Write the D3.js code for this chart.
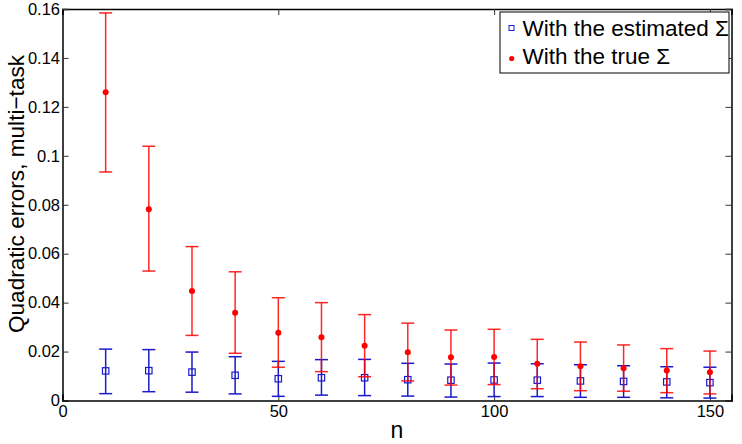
<!DOCTYPE html>
<html>
<head>
<meta charset="utf-8">
<script src="https://cdn.jsdelivr.net/npm/d3@7"></script>
<style>
  body { margin: 0; background: #fff; }
  svg { font-family: "Liberation Sans", Arial, sans-serif; }
</style>
</head>
<body>
<script>
    // sample sizes
    var nValues = [10, 20, 30, 40, 50, 60, 70, 80, 90, 100, 110, 120, 130, 140, 150];

    // with the true sigma (red)
    var trueMean = [0.126, 0.0782, 0.0448, 0.0359, 0.0277, 0.0258, 0.0224, 0.0197, 0.0177, 0.0178, 0.0150, 0.0140, 0.0132, 0.0123, 0.0115];
    var trueUpper = [0.1584, 0.1039, 0.0629, 0.0526, 0.0420, 0.0400, 0.0351, 0.0316, 0.0288, 0.0291, 0.0250, 0.0239, 0.0227, 0.0212, 0.0202];
    var trueLower = [0.0934, 0.0529, 0.0266, 0.0193, 0.0136, 0.0118, 0.0097, 0.0080, 0.0063, 0.0065, 0.0048, 0.0040, 0.0038, 0.0032, 0.0027];

    // with the estimated sigma (blue)
    var estMean = [0.0121, 0.0122, 0.0116, 0.0103, 0.0089, 0.0093, 0.0093, 0.0085, 0.0083, 0.0084, 0.0083, 0.0080, 0.0078, 0.0076, 0.0073];
    var estUpper = [0.0210, 0.0208, 0.0198, 0.0179, 0.0160, 0.0167, 0.0168, 0.0152, 0.0149, 0.0153, 0.0150, 0.0146, 0.0142, 0.0138, 0.0136];
    var estLower = [0.0028, 0.0036, 0.0034, 0.0027, 0.0017, 0.0022, 0.0020, 0.0018, 0.0014, 0.0016, 0.0016, 0.0013, 0.0013, 0.0011, 0.0010];

    var xTicks = [0, 50, 100, 150];
    var yTicks = [0, 0.02, 0.04, 0.06, 0.08, 0.1, 0.12, 0.14, 0.16];
    var legendLabels = ["With the estimated \u03A3", "With the true \u03A3"];

    const margin = {top: 9, right: 10.5, bottom: 43.5, left: 62.5};
    const W = 742, H = 444;
    const width = W - margin.left - margin.right;
    const height = H - margin.top - margin.bottom;

    const BLUE = "#1a1acc", RED = "#ff0000";

    function rows(mean, upper, lower) {
        return nValues.map(function(n, i) {
            return {n: n, m: mean[i], hi: upper[i], lo: lower[i]};
        });
    }
    var estData = rows(estMean, estUpper, estLower);
    var trueData = rows(trueMean, trueUpper, trueLower);

    var svg = d3.select("body").append("svg")
        .attr("width", W)
        .attr("height", H);

    var g = svg.append("g")
        .attr("transform", "translate(" + margin.left + "," + margin.top + ")");

    var x = d3.scaleLinear().domain([0, 155]).range([0, width]);
    var y = d3.scaleLinear().domain([0, 0.16]).range([height, 0]);

    var yFmt = function(d) { return d === 0 ? "0" : String(+d.toFixed(2)); };

    // axes, ticks pointing inward
    var gxb = g.append("g").attr("transform", "translate(0," + height + ")")
        .call(d3.axisBottom(x).tickValues(xTicks).tickSize(-6).tickPadding(5));
    var gxt = g.append("g")
        .call(d3.axisTop(x).tickValues(xTicks).tickSize(-6).tickFormat(""));
    var gyl = g.append("g")
        .call(d3.axisLeft(y).tickValues(yTicks).tickSize(-6).tickPadding(2.5).tickFormat(yFmt));
    var gyr = g.append("g").attr("transform", "translate(" + width + ",0)")
        .call(d3.axisRight(y).tickValues(yTicks).tickSize(-6).tickFormat(""));

    [gxb, gxt, gyl, gyr].forEach(function(a) {
        a.select(".domain").attr("stroke", "#000").attr("stroke-width", 1.5);
        a.selectAll(".tick line").attr("stroke", "#333").attr("stroke-width", 1);
        a.selectAll("text").attr("font-size", 16.5).attr("fill", "#000")
            .style("font-family", "Liberation Sans, Arial, sans-serif");
    });

    function drawErr(data, color, cls) {
        var cw = 6.5;
        var e = g.append("g").attr("class", cls).selectAll("g")
            .data(data).enter().append("g")
            .attr("stroke", color).attr("stroke-width", 1.5).attr("fill", "none");
        e.append("line")
            .attr("x1", function(d) { return x(d.n); })
            .attr("x2", function(d) { return x(d.n); })
            .attr("y1", function(d) { return y(d.hi); })
            .attr("y2", function(d) { return y(d.lo); });
        e.append("line")
            .attr("x1", function(d) { return x(d.n) - cw; })
            .attr("x2", function(d) { return x(d.n) + cw; })
            .attr("y1", function(d) { return y(d.hi); })
            .attr("y2", function(d) { return y(d.hi); });
        e.append("line")
            .attr("x1", function(d) { return x(d.n) - cw; })
            .attr("x2", function(d) { return x(d.n) + cw; })
            .attr("y1", function(d) { return y(d.lo); })
            .attr("y2", function(d) { return y(d.lo); });
        return e;
    }

    drawErr(estData, BLUE, "estErr");
    g.selectAll(".estPt").data(estData).enter().append("rect")
        .attr("class", "estPt")
        .attr("x", function(d) { return x(d.n) - 3.2; })
        .attr("y", function(d) { return y(d.m) - 3.2; })
        .attr("width", 6.4).attr("height", 6.4)
        .attr("fill", "none").attr("stroke", BLUE).attr("stroke-width", 1.2);

    drawErr(trueData, RED, "trueErr").attr("stroke-opacity", 0.85);
    g.selectAll(".truePt").data(trueData).enter().append("circle")
        .attr("class", "truePt")
        .attr("cx", function(d) { return x(d.n); })
        .attr("cy", function(d) { return y(d.m); })
        .attr("r", 3)
        .attr("fill", RED);

    // labels
    svg.append("text")
        .attr("x", 397).attr("y", 438)
        .attr("text-anchor", "middle")
        .attr("font-size", 23)
        .text("n");

    svg.append("text")
        .attr("transform", "translate(24,194) rotate(-90)")
        .attr("text-anchor", "middle")
        .attr("font-size", 22.6)
        .text("Quadratic errors, multi\u2212task");

    // legend
    var lg = svg.append("g").attr("transform", "translate(500,12)");
    lg.append("rect")
        .attr("width", 229).attr("height", 61)
        .attr("fill", "#fff").attr("stroke", "#000").attr("stroke-width", 1);
    lg.append("rect")
        .attr("x", 9).attr("y", 13.5).attr("width", 5).attr("height", 5)
        .attr("fill", "none").attr("stroke", BLUE).attr("stroke-width", 1);
    lg.append("circle")
        .attr("cx", 11.7).attr("cy", 46.5).attr("r", 2.6).attr("fill", RED);
    lg.selectAll(".lgText").data(legendLabels).enter().append("text")
        .attr("class", "lgText")
        .attr("x", 22.5)
        .attr("y", function(d, i) { return 24 + i * 28; })
        .attr("font-size", 22.5)
        .text(function(d) { return d; });
</script>
</body>
</html>
